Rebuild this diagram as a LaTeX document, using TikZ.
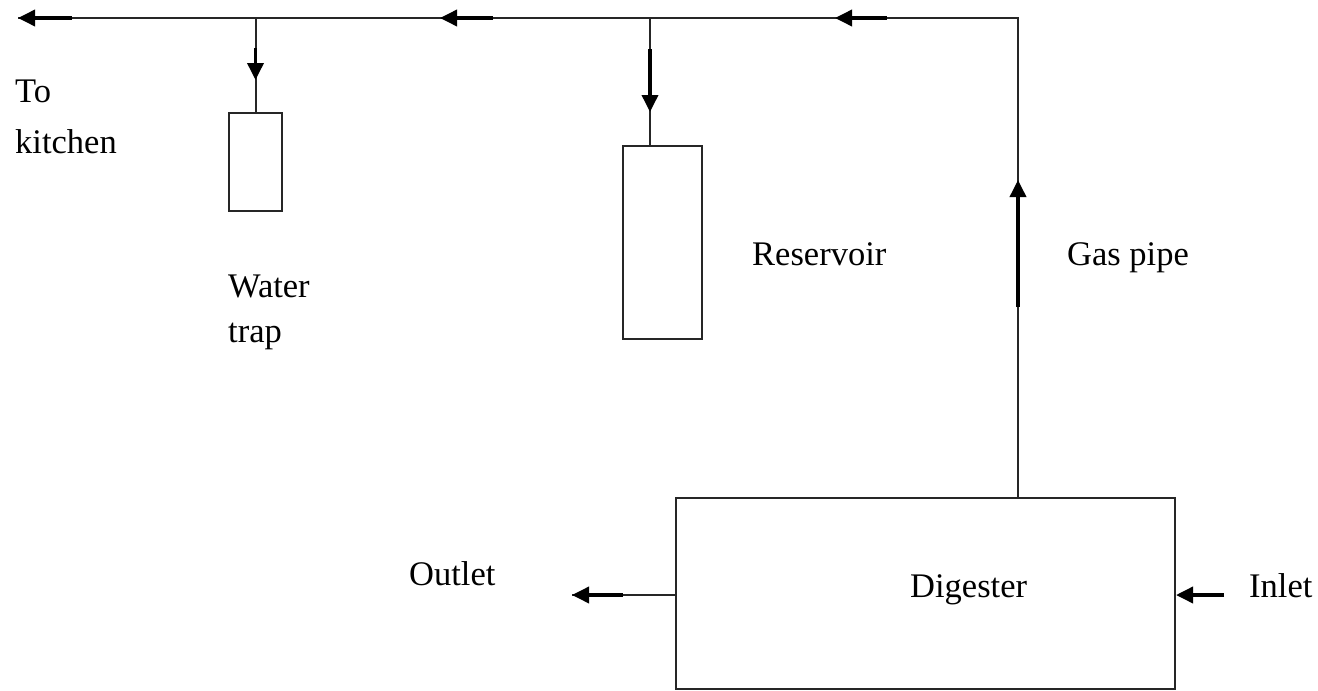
\documentclass[tikz,border=0pt]{standalone}
\usepackage{fontspec}
\setmainfont{Liberation Serif}
\usetikzlibrary{arrows.meta}
\begin{document}
\begin{tikzpicture}[x=1pt,y=-1pt,
  pipe/.style={line width=2pt,draw=black!85},
  flow/.style={line width=3.6pt,-{Triangle[length=17pt,width=16pt]}},
  tank/.style={draw=black!85,line width=2pt,inner sep=0pt,minimum width=#1},
  lbl/.style={anchor=base west,inner sep=0pt,font=\fontsize{34.5}{40}\selectfont}]
\useasboundingbox (0,0) rectangle (1318,691);
% tanks
\node[tank=53pt,minimum height=98pt] (wt) at (255.5,162) {};
\node[tank=79pt,minimum height=193pt] (res) at (662.5,242.5) {};
\node[tank=499pt,minimum height=191pt] (dig) at (925.5,593.5) {};
% pipe coordinates
\coordinate (corner) at (1018,18);
\coordinate (kitchen) at (18,18);
\coordinate (j1) at (255.5,18);
\coordinate (j2) at (650,18);
\coordinate (gp) at (corner |- dig.north);
\coordinate (outend) at (572,595);
\coordinate (inend) at (1224,595);
% pipes
\draw[pipe] (gp) -- (corner) -- (kitchen);
\draw[pipe] (j1) -- (wt.north);
\draw[pipe] (j2) -- (j2 |- res.north);
\draw[pipe] (dig.west |- outend) -- (outend);
% flow arrows
\draw[flow] (72,18) -- (kitchen);
\draw[flow] (493,18) -- (440,18);
\draw[flow] (887,18) -- (835,18);
\draw[flow] (255.5,48) -- (255.5,80);
\draw[flow] (j2 |- 0,49) -- (j2 |- 0,112);
\draw[flow] (gp |- 0,307) -- (gp |- 0,180);
\draw[flow] (623,595) -- (outend);
\draw[flow] (inend) -- (dig.east |- inend);
% labels
\node[lbl] (to) at (15,102) {To};
\node[lbl] (kit) at (15,153) {kitchen};
\node[lbl] (wat) at (228,297) {Water};
\node[lbl] (trp) at (228,342) {trap};
\node[lbl] (resl) at (752,265) {Reservoir};
\node[lbl] (gasl) at (1067,265) {Gas pipe};
\node[lbl] (outl) at (409,585) {Outlet};
\node[lbl] (digl) at (910,597) {Digester};
\node[lbl] (inl) at (1249,597) {Inlet};
\end{tikzpicture}
\end{document}
